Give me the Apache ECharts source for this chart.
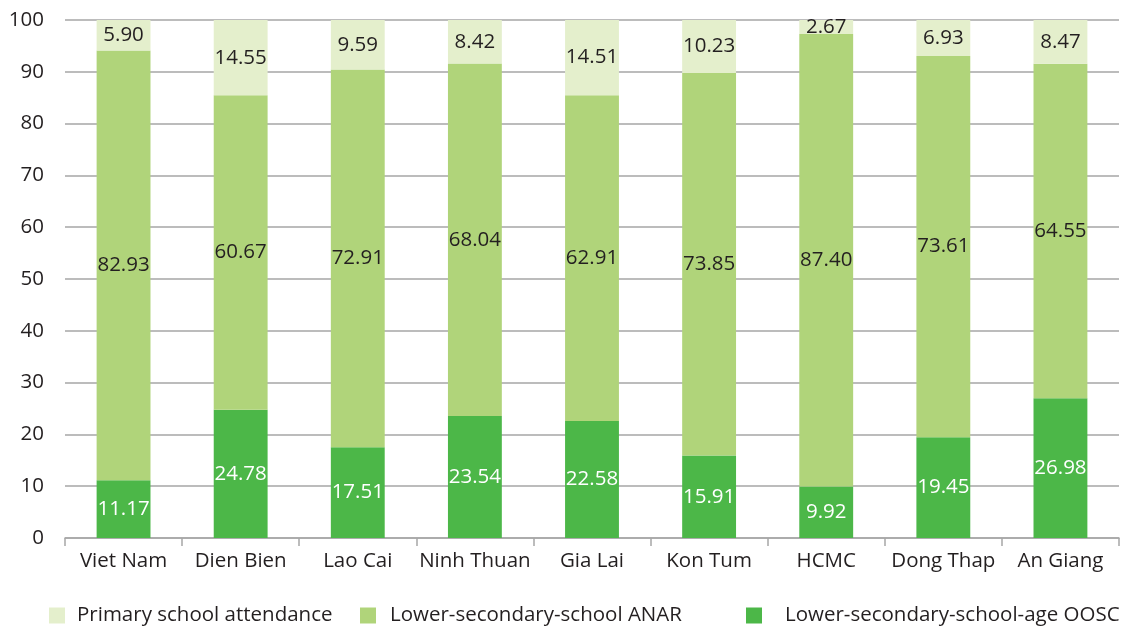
<!DOCTYPE html>
<html>
<head>
<meta charset="utf-8">
<script src="https://cdn.jsdelivr.net/npm/echarts@6/dist/echarts.min.js"></script>
<style>
  html, body { margin: 0; padding: 0; background: #ffffff; }
  #chart { width: 1136px; height: 631px; }
</style>
</head>
<body>
<div id="chart"></div>
<script>
// Regions shown along the x axis
const regions = ['Viet Nam', 'Dien Bien', 'Lao Cai', 'Ninh Thuan', 'Gia Lai', 'Kon Tum', 'HCMC', 'Dong Thap', 'An Giang'];

// Stacked shares (%) per region, bottom to top
const oosc = [11.17, 24.78, 17.51, 23.54, 22.58, 15.91, 9.92, 19.45, 26.98];
const anar = [82.93, 60.67, 72.91, 68.04, 62.91, 73.85, 87.40, 73.61, 64.55];
const primary = [5.90, 14.55, 9.59, 8.42, 14.51, 10.23, 2.67, 6.93, 8.47];

// Series names
const nameOosc = 'Lower-secondary-school-age OOSC';
const nameAnar = 'Lower-secondary-school ANAR';
const namePrimary = 'Primary school attendance';

const FONT = '"Open Sans", "Noto Sans", sans-serif';
const TEXT = '#231f20';
const COLORS = { primary: '#e4efcc', anar: '#b0d47a', oosc: '#4cb748' };

function fmt(p) { return Number(p.value).toFixed(2); }

function makeSeries(name, data, color, labelColor) {
  return {
    name: name,
    type: 'bar',
    stack: 'total',
    data: data,
    barWidth: '46%',
    itemStyle: { color: color },
    label: {
      show: true,
      position: 'inside',
      formatter: fmt,
      color: labelColor,
      fontFamily: FONT,
      fontSize: 20.5
    }
  };
}

// One legend block per series so each entry sits at its own spot
function legendAt(left, name, textGap) {
  return {
    data: [name],
    left: left,
    top: 600,
    icon: 'rect',
    itemWidth: 16,
    itemHeight: 16,
    itemGap: 0,
    textStyle: { color: TEXT, fontFamily: FONT, fontSize: 20.5, padding: [0, 0, 0, textGap] },
    selectedMode: false
  };
}

const chart = echarts.init(document.getElementById('chart'));
chart.setOption({
  animation: false,
  backgroundColor: '#ffffff',
  grid: { left: 65, right: 17, top: 20, bottom: 93 },
  legend: [
    legendAt(44, namePrimary, 7),
    legendAt(355, nameAnar, 9),
    legendAt(741, nameOosc, 18)
  ],
  xAxis: {
    type: 'category',
    data: regions,
    axisLine: { show: true, lineStyle: { color: '#a6a6a6', width: 1.5 } },
    axisTick: { show: true, length: 8, lineStyle: { color: '#a6a6a6', width: 1.5 } },
    axisLabel: { interval: 0, color: TEXT, fontFamily: FONT, fontSize: 20.5, margin: 13 }
  },
  yAxis: {
    type: 'value',
    min: 0,
    max: 100,
    interval: 10,
    axisLine: { show: false },
    axisTick: { show: false },
    axisLabel: { color: TEXT, fontFamily: FONT, fontSize: 20.5, margin: 21 },
    splitLine: { lineStyle: { color: '#a6a6a6', width: 1.5 } }
  },
  series: [
    makeSeries(nameOosc, oosc, COLORS.oosc, '#ffffff'),
    makeSeries(nameAnar, anar, COLORS.anar, TEXT),
    makeSeries(namePrimary, primary, COLORS.primary, TEXT)
  ]
});
</script>
</body>
</html>
